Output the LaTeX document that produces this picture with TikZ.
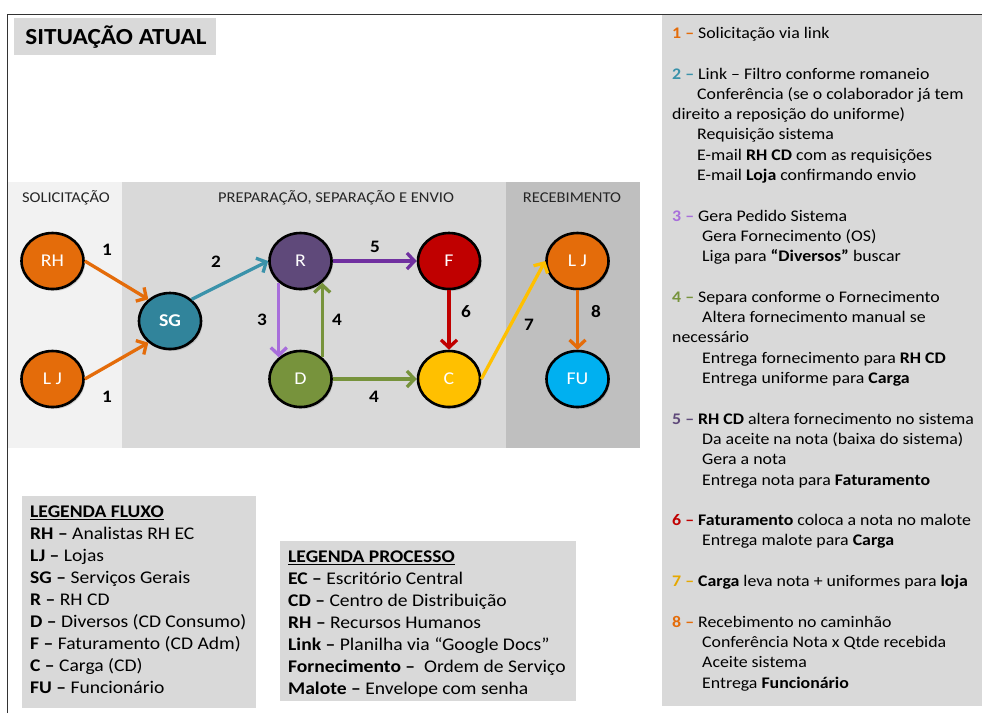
\documentclass[tikz,border=0pt]{standalone}
\usepackage{fontspec}
\setmainfont{Carlito}[FakeStretch=1.1]
\usetikzlibrary{shapes.geometric,arrows.meta,shadows}

\definecolor{laranja}{HTML}{E46C0A}
\definecolor{petroleo}{HTML}{31849B}
\definecolor{setaazul}{HTML}{3A92AA}
\definecolor{roxo}{HTML}{5F497A}
\definecolor{violeta}{HTML}{7030A0}
\definecolor{lilas}{HTML}{A86EDB}
\definecolor{vermelho}{HTML}{C00000}
\definecolor{verde}{HTML}{77933C}
\definecolor{amarelo}{HTML}{FFC000}
\definecolor{ouro}{HTML}{E6A800}
\definecolor{ciano}{HTML}{00B0F0}
\definecolor{fundoA}{HTML}{F2F2F2}
\definecolor{fundoB}{HTML}{D9D9D9}
\definecolor{fundoC}{HTML}{BFBFBF}

\begin{document}
\begin{tikzpicture}[x=1pt, y=-1pt, font=\fontsize{15}{18}\selectfont]
\tikzstyle{etapa} = [ellipse, draw=black, line width=2.6pt, minimum width=62pt, minimum height=56pt,
  text=white, font=\fontsize{18}{20}\selectfont,
  drop shadow={opacity=0.3, shadow xshift=1.5pt, shadow yshift=-2pt}]
\tikzstyle{seta} = [line width=3.3pt, -{Straight Barb[length=7.5pt, width=16pt]}]
\tikzstyle{num} = [font=\fontsize{17.5}{20}\selectfont\bfseries]
\tikzstyle{faixa} = [text=black!85]
\tikzstyle{legenda} = [anchor=north west, align=left, inner sep=0pt, font=\fontsize{17.8}{22}\selectfont]

\useasboundingbox (0,0) rectangle (982,713);
\draw[line width=1pt, black!80] (7,713) -- (7,14) -- (982,14);

\fill[fundoB] (14,18) rectangle (216,55);
\node[font=\fontsize{23}{26}\selectfont\bfseries] (titulo) at (116,37) {SITUAÇÃO ATUAL};

\fill[fundoA] (8,182) rectangle (122,448);
\fill[fundoB] (122,182) rectangle (506,448);
\fill[fundoC] (506,182) rectangle (640,448);
\node[faixa] (hsol) at (66,198) {SOLICITAÇÃO};
\node[faixa] (hprep) at (336,198) {PREPARAÇÃO, SEPARAÇÃO E ENVIO};
\node[faixa] (hrec) at (572,198) {RECEBIMENTO};

\node[etapa, fill=laranja] (rh) at (52.5,261) {RH};
\node[etapa, fill=laranja] (lj) at (52.5,379) {L J};
\node[etapa, fill=petroleo, font=\fontsize{18}{20}\selectfont\bfseries] (sg) at (170,321) {SG};
\node[etapa, fill=roxo] (r) at (300.5,261) {R};
\node[etapa, fill=verde] (d) at (300.5,379) {D};
\node[etapa, fill=vermelho] (f) at (449,261) {F};
\node[etapa, fill=amarelo] (c) at (449,379) {C};
\node[etapa, fill=laranja] (loja) at (577.5,261) {L J};
\node[etapa, fill=ciano] (fu) at (577.5,379) {FU};

\draw[seta, laranja] (rh.east) -- (sg.135);
\draw[seta, laranja] (lj.east) -- (sg.225);
\draw[seta, setaazul] (sg.45) -- (r.west);
\draw[seta, lilas] (r.225) -- (d.135);
\draw[seta, verde] (d.45) -- (r.-45);
\draw[seta, violeta] (r.east) -- (f.west);
\draw[seta, verde] (d.east) -- (c.west);
\draw[seta, vermelho] (f.south) -- (c.north);
\draw[seta, amarelo] (c.east) -- (loja.west);
\draw[seta, laranja] (loja.south) -- (fu.north);

\node[num] (n1a) at (107,250) {1};
\node[num] (n1b) at (107,397) {1};
\node[num] (n2) at (216,262) {2};
\node[num] (n3) at (262,320) {3};
\node[num] (n4a) at (337,320) {4};
\node[num] (n4b) at (374,397) {4};
\node[num] (n5) at (375,247) {5};
\node[num] (n6) at (466,312) {6};
\node[num] (n7) at (529,325) {7};
\node[num] (n8) at (596,312) {8};

\fill[fundoB] (22,496) rectangle (256,708);
\node[legenda] (fluxo) at (30,506) {\underline{\textbf{LEGENDA FLUXO}}\\
  \textbf{RH –} Analistas RH EC\\
  \textbf{LJ –} Lojas\\
  \textbf{SG –} Serviços Gerais\\
  \textbf{R –} RH CD\\
  \textbf{D –} Diversos (CD Consumo)\\
  \textbf{F –} Faturamento (CD Adm)\\
  \textbf{C –} Carga (CD)\\
  \textbf{FU –} Funcionário};

\fill[fundoB] (280,541) rectangle (576,701);
\node[legenda] (processo) at (288,551) {\underline{\textbf{LEGENDA PROCESSO}}\\
  \textbf{EC –} Escritório Central\\
  \textbf{CD –} Centro de Distribuição\\
  \textbf{RH –} Recursos Humanos\\
  \textbf{Link –} Planilha via “Google Docs”\\
  \textbf{Fornecimento –} \ Ordem de Serviço\\
  \textbf{Malote –} Envelope com senha};

\fill[fundoB] (662,15) rectangle (982,706);
\node[legenda, font=\fontsize{16.2}{20.3}\selectfont] (passos) at (672,27) {%
  \textbf{\color{laranja}1 –} Solicitação via link\\[20.3pt]
  \textbf{\color{setaazul}2 –} Link – Filtro conforme romaneio\\
  \hspace*{25pt}Conferência (se o colaborador já tem\\
  direito a reposição do uniforme)\\
  \hspace*{25pt}Requisição sistema\\
  \hspace*{25pt}E-mail \textbf{RH CD} com as requisições\\
  \hspace*{25pt}E-mail \textbf{Loja} confirmando envio\\[20.3pt]
  \textbf{\color{lilas}3 –} Gera Pedido Sistema\\
  \hspace*{30pt}Gera Fornecimento (OS)\\
  \hspace*{30pt}Liga para \textbf{“Diversos”} buscar\\[20.3pt]
  \textbf{\color{verde}4 –} Separa conforme o Fornecimento\\
  \hspace*{30pt}Altera fornecimento manual se\\
  necessário\\
  \hspace*{30pt}Entrega fornecimento para \textbf{RH CD}\\
  \hspace*{30pt}Entrega uniforme para \textbf{Carga}\\[20.3pt]
  \textbf{\color{roxo}5 –} \textbf{RH CD} altera fornecimento no sistema\\
  \hspace*{30pt}Da aceite na nota (baixa do sistema)\\
  \hspace*{30pt}Gera a nota\\
  \hspace*{30pt}Entrega nota para \textbf{Faturamento}\\[20.3pt]
  \textbf{\color{vermelho}6 –} \textbf{Faturamento} coloca a nota no malote\\
  \hspace*{30pt}Entrega malote para \textbf{Carga}\\[20.3pt]
  \textbf{\color{ouro}7 –} \textbf{Carga} leva nota + uniformes para \textbf{loja}\\[20.3pt]
  \textbf{\color{laranja}8 –} Recebimento no caminhão\\
  \hspace*{30pt}Conferência Nota x Qtde recebida\\
  \hspace*{30pt}Aceite sistema\\
  \hspace*{30pt}Entrega \textbf{Funcionário}};
\end{tikzpicture}
\end{document}
